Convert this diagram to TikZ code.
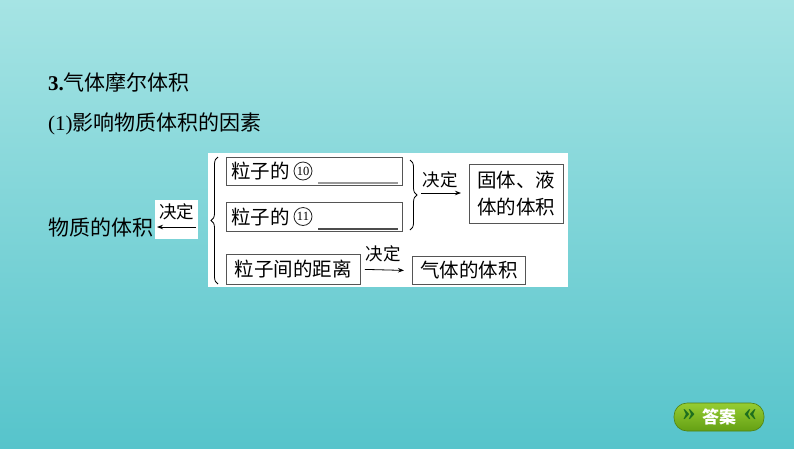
\documentclass[tikz,border=0pt]{standalone}
\usepackage{fontspec}
\setmainfont{Liberation Serif}
\newfontfamily\cjk{Noto Sans CJK SC}
\usetikzlibrary{decorations.pathreplacing,arrows.meta}
\definecolor{bgtop}{RGB}{166,228,228}
\definecolor{bgbot}{RGB}{86,196,203}
\definecolor{boxline}{RGB}{85,85,85}
\definecolor{btntop}{RGB}{150,205,50}
\definecolor{btnbot}{RGB}{100,160,20}
\definecolor{btndark}{RGB}{30,110,30}
\begin{document}
\begin{tikzpicture}[x=1pt,y=-1pt,
  txt/.style={inner sep=0pt,anchor=west,font=\fontsize{21}{21}\selectfont},
  btxt/.style={inner sep=0pt,font=\cjk\fontsize{19.5}{19.5}\selectfont},
  frame/.style={draw=boxline,line width=0.8pt,inner sep=0pt,anchor=north west},
  lbl/.style={inner sep=0pt,font=\cjk\fontsize{17.5}{17.5}\selectfont},
  circnum/.style={circle,draw=black!85,line width=0.8pt,inner sep=0pt,minimum size=18pt,font=\fontsize{12.5}{12.5}\selectfont},
  arr/.style={line width=0.8pt,-{Stealth[length=6pt,width=4.5pt]}},
  brc/.style={decorate,line width=0.8pt,decoration={brace,amplitude=7pt}},
  blank/.style={line width=1.6pt}]
\shade[top color=bgtop,bottom color=bgbot] (0,0) rectangle (794,448);
\useasboundingbox (0,0) rectangle (794,448);

% headings
\node[txt] (title) at (48,82) {\textbf{3.}{\cjk 气体摩尔体积}};
\node[txt] (sub) at (48,124) {(1){\cjk 影响物质体积的因素}};

% white panel
\node[fill=white,inner sep=0pt,anchor=north west,minimum width=360pt,minimum height=134pt] (panel) at (208,153) {};

% left part
\node[txt] (mat) at (48,227) {\cjk 物质的体积};
\node[fill=white,inner sep=0pt,anchor=north west,minimum width=43pt,minimum height=39pt] (lpanel) at (155,200) {};
\coordinate (la) at (196,227);
\coordinate (lb) at (157,227);
\draw[arr] (la) -- (lb);
\node[lbl] (jd0) at (176.5,212) {决定};

% boxes
\node[frame,minimum width=176pt,minimum height=28pt] (b1) at (226,157) {};
\node[btxt,anchor=west] (t1) at ([xshift=5pt]b1.west) {粒子的};
\node[circnum] (c1) at (303,171) {10};
\coordinate (u1a) at (318,183);
\coordinate (u1b) at (398,183);
\draw[blank,color=black!40] (u1a) -- (u1b);

\node[frame,minimum width=176pt,minimum height=29pt] (b2) at (226,202) {};
\node[btxt,anchor=west] (t2) at ([xshift=5pt]b2.west) {粒子的};
\node[circnum] (c2) at (303,216.5) {11};
\coordinate (u2a) at (318,229);
\coordinate (u2b) at (398,229);
\draw[blank,color=black!70] (u2a) -- (u2b);

\node[frame,minimum width=134pt,minimum height=30pt] (b3) at (226,254) {};
\node[btxt] (t3) at (b3.center) {粒子间的距离};

\node[frame,minimum width=94pt,minimum height=59pt] (b4) at (469,164) {};
\node[btxt,align=left,font=\cjk\fontsize{19.5}{27}\selectfont] (t4) at (b4.center) {固体、液\\体的体积};

\node[frame,minimum width=113pt,minimum height=28pt] (b5) at (412,256) {};
\node[btxt] (t5) at (b5.center) {气体的体积};

% braces
\coordinate (lbr1) at (218,284);
\coordinate (lbr2) at (218,157);
\draw[brc] (lbr1) -- (lbr2);
\coordinate (rbr1) at (410,160);
\coordinate (rbr2) at (410,230);
\draw[brc] (rbr1) -- (rbr2);

% right arrows
\coordinate (ra) at (421,193);
\coordinate (rb) at (461,193);
\draw[arr] (ra) -- (rb);
\node[lbl] (jd1) at (440,180) {决定};

\draw[arr] ([xshift=4pt]b3.east) -- ([xshift=-8pt]b5.west);
\node[lbl] (jd2) at (383,254) {决定};

% answer button
\node[rounded corners=13pt,top color=btntop,bottom color=btnbot,draw=btnbot!80!black,line width=0.6pt,minimum width=90pt,minimum height=28pt,inner sep=0pt] (btn) at (719,417) {};
\node[inner sep=0pt,text=white,font=\cjk\bfseries\fontsize{17}{17}\selectfont] (ans) at (719,417) {答案};
\node[inner sep=0pt,text=btndark,font=\bfseries\fontsize{26}{26}\selectfont] (gl) at (689,415) {»};
\node[inner sep=0pt,text=btndark,font=\bfseries\fontsize{26}{26}\selectfont] (gr) at (750,415) {«};
\end{tikzpicture}
\end{document}
